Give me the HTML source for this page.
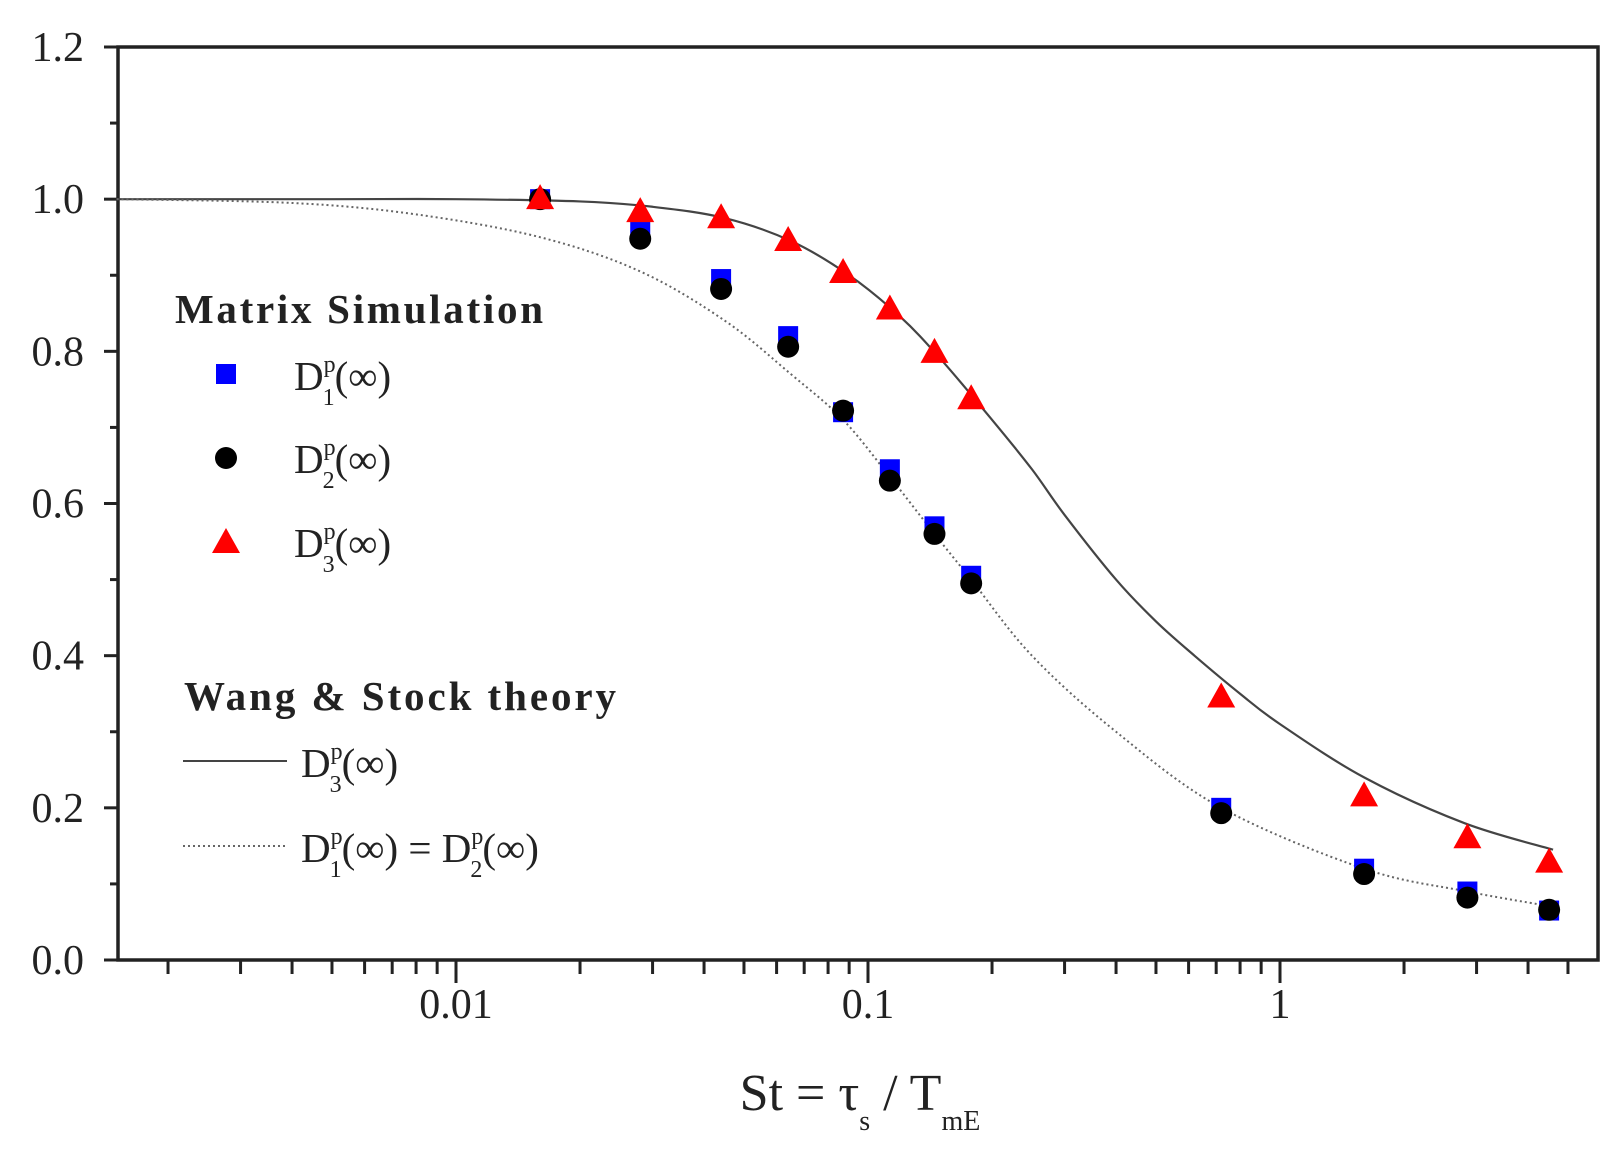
<!DOCTYPE html>
<html><head><meta charset="utf-8"><style>
html,body{margin:0;padding:0;background:#fff;}
svg{display:block;font-family:"Liberation Serif",serif;}
</style></head><body>
<svg id="s" width="1620" height="1168" viewBox="0 0 1620 1168" xmlns="http://www.w3.org/2000/svg">
<g id="g"></g>
<g font-size="41" fill="#222">
<text x="175" y="323" font-weight="bold" font-size="41" textLength="368">Matrix Simulation</text>
<rect x="216" y="364" width="20" height="20" fill="#0000ff"/>
<text x="294" y="390">D<tspan font-size="24" dy="-18">p</tspan><tspan font-size="24" dx="-13" dy="33">1</tspan><tspan dy="-15">(∞)</tspan></text>
<circle cx="226" cy="458" r="11" fill="#000"/>
<text x="294" y="473">D<tspan font-size="24" dy="-18">p</tspan><tspan font-size="24" dx="-13" dy="33">2</tspan><tspan dy="-15">(∞)</tspan></text>
<polygon points="226,528 240,553 212,553" fill="#ff0000"/>
<text x="294" y="557">D<tspan font-size="24" dy="-18">p</tspan><tspan font-size="24" dx="-13" dy="33">3</tspan><tspan dy="-15">(∞)</tspan></text>
<text x="184" y="710" font-weight="bold" textLength="432">Wang &amp; Stock theory</text>
<line x1="183" y1="761" x2="287" y2="761" stroke="#444" stroke-width="2"/>
<text x="301" y="777">D<tspan font-size="24" dy="-18">p</tspan><tspan font-size="24" dx="-13" dy="33">3</tspan><tspan dy="-15">(∞)</tspan></text>
<line x1="183" y1="846" x2="287" y2="846" stroke="#666" stroke-width="2" stroke-dasharray="2,3"/>
<text x="301" y="862">D<tspan font-size="24" dy="-18">p</tspan><tspan font-size="24" dx="-13" dy="33">1</tspan><tspan dy="-15">(∞) =  D</tspan><tspan font-size="24" dy="-18">p</tspan><tspan font-size="24" dx="-13" dy="33">2</tspan><tspan dy="-15">(∞)</tspan></text>
<text x="860" y="1110" font-size="52" text-anchor="middle">St = τ<tspan font-size="28" dy="20">s</tspan><tspan dy="-20"> / T</tspan><tspan font-size="28" dy="20">mE</tspan></text>
</g>
</svg>
<script>
var NS="http://www.w3.org/2000/svg",g=document.getElementById("g");
function X(v){return 1280+412*Math.log10(v);}
function Y(v){return 960-v*(913/1.2);}
function el(t,a){var e=document.createElementNS(NS,t);for(var k in a)e.setAttribute(k,a[k]);g.appendChild(e);return e;}
for(var i=0;i<=12;i++){var y=Y(i*0.1);var maj=i%2==0;el("line",{x1:maj?104:110,y1:y,x2:118,y2:y,stroke:"#222","stroke-width":3});
 if(maj){var t=el("text",{x:84,y:y+14,"font-size":42,"text-anchor":"end",fill:"#222"});t.textContent=(i/10).toFixed(1);}}
for(var d=-3;d<=0;d++){for(var m=1;m<=9;m++){var v=m*Math.pow(10,d);var x=X(v);if(x<120||x>1596)continue;
 el("line",{x1:x,y1:960,x2:x,y2:m==1?983:974,stroke:"#222","stroke-width":3});
 if(m==1){var t=el("text",{x:x,y:1018,"font-size":42,"text-anchor":"middle",fill:"#222"});t.textContent=d==-2?"0.01":d==-1?"0.1":d==0?"1":"";}}}
el("rect",{x:118,y:47,width:1480,height:913,fill:"none",stroke:"#222","stroke-width":3.5});
function curve(p,attrs){var pts=p.map(function(q){return [X(q[0]),Y(q[1])];});var d="M"+pts[0][0]+","+pts[0][1];
 for(var i=0;i<pts.length-1;i++){var p0=pts[Math.max(i-1,0)],p1=pts[i],p2=pts[i+1],p3=pts[Math.min(i+2,pts.length-1)];
 d+=" C"+(p1[0]+(p2[0]-p0[0])/6)+","+(p1[1]+(p2[1]-p0[1])/6)+" "+(p2[0]-(p3[0]-p1[0])/6)+","+(p2[1]-(p3[1]-p1[1])/6)+" "+p2[0]+","+p2[1];}
 attrs.d=d;attrs.fill="none";el("path",attrs);}
curve([[0.0015,1],[0.005,1],[0.01,1],[0.02,0.997],[0.03,0.99],[0.045,0.975],[0.065,0.945],[0.09,0.9],[0.12,0.845],[0.15,0.79],[0.2,0.71],[0.25,0.645],[0.3,0.585],[0.4,0.5],[0.5,0.445],[0.62,0.4],[0.8,0.35],[1,0.31],[1.6,0.24],[2.8,0.18],[4.6,0.145]],{stroke:"#444","stroke-width":2.2});
curve([[0.0015,1],[0.004,0.995],[0.008,0.98],[0.016,0.95],[0.028,0.905],[0.045,0.84],[0.065,0.77],[0.087,0.71],[0.113,0.635],[0.145,0.56],[0.178,0.5],[0.25,0.4],[0.4,0.3],[0.72,0.2],[1.6,0.12],[2.85,0.09],[4.6,0.07]],{stroke:"#666","stroke-width":2,"stroke-dasharray":"2,3"});
var xs=[0.016,0.028,0.044,0.064,0.087,0.113,0.145,0.178,0.72,1.6,2.85,4.5];
var sq=[1.0,0.96,0.895,0.82,0.72,0.645,0.57,0.505,0.2,0.12,0.09,0.065];
var ci=[1.0,0.948,0.882,0.806,0.722,0.63,0.56,0.495,0.193,0.113,0.082,0.066];
var tr=[1.0,0.983,0.975,0.945,0.903,0.855,0.798,0.737,0.345,0.215,0.16,0.128];
xs.forEach(function(x,i){var px=X(x);
 el("rect",{x:px-10,y:Y(sq[i])-10,width:20,height:20,fill:"#0000ff"});
 el("circle",{cx:px,cy:Y(ci[i]),r:11,fill:"#000"});
 var ty=Y(tr[i]);el("polygon",{points:px+","+(ty-15)+" "+(px+14)+","+(ty+10)+" "+(px-14)+","+(ty+10),fill:"#ff0000"});});
</script>
</body></html>
